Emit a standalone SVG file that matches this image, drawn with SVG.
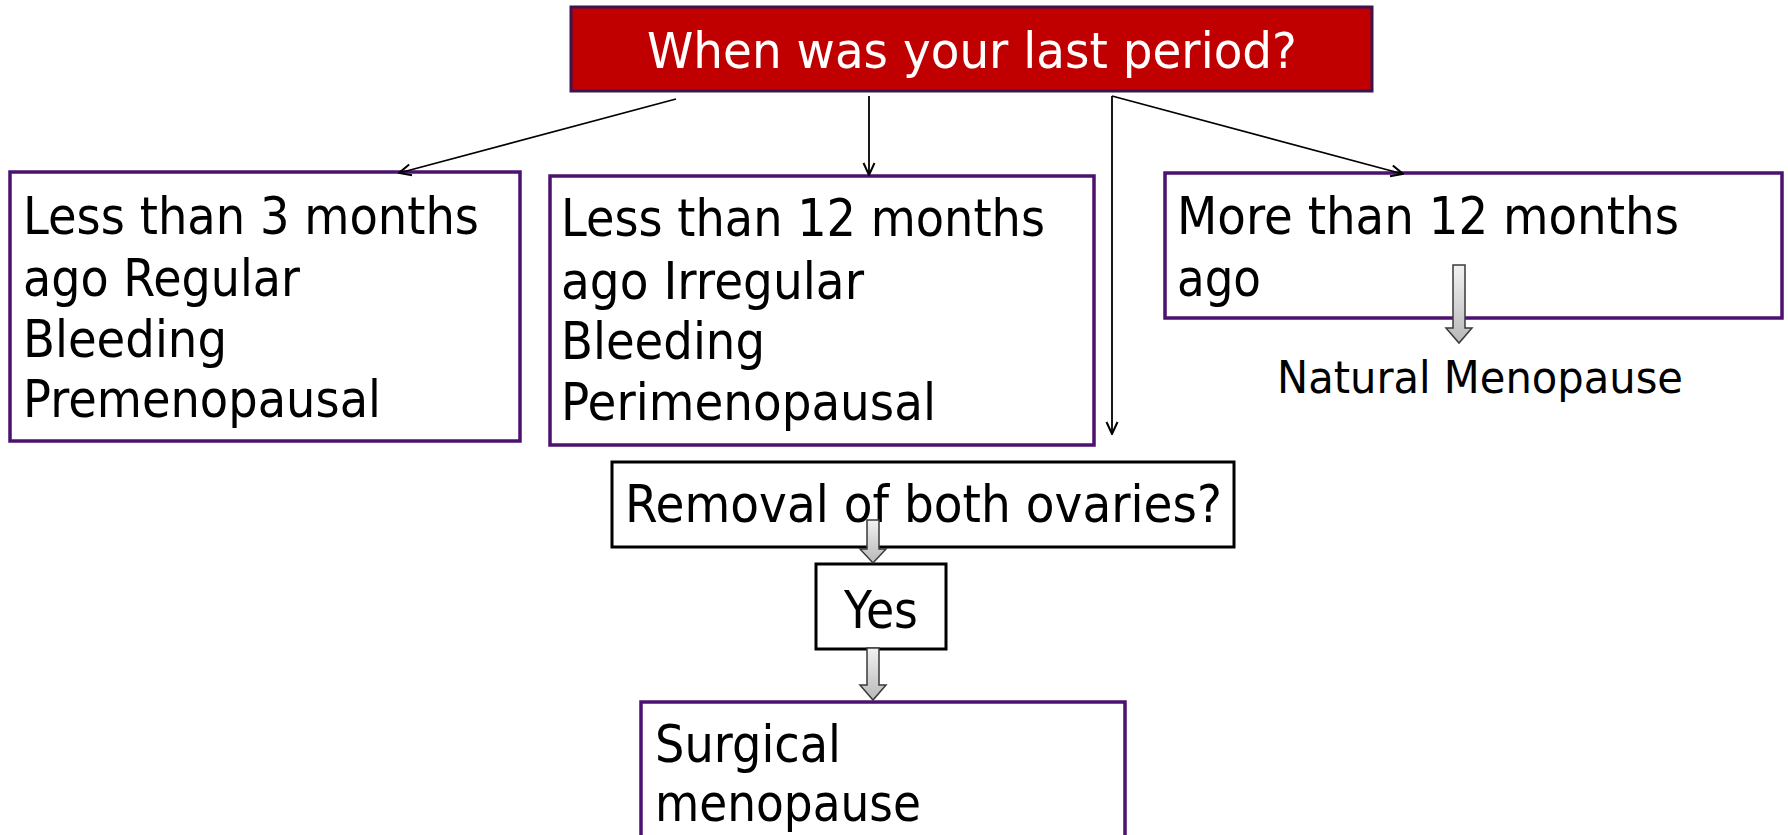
<svg xmlns="http://www.w3.org/2000/svg" width="1788" height="835" viewBox="0 0 1788 835">
<style>
.t{font-family:"DejaVu Sans","Liberation Sans",sans-serif;fill:#000;}
.box{fill:#fff;stroke:#4b1270;stroke-width:3.5;}
.bbox{fill:#fff;stroke:#000;stroke-width:3;}
.conn{stroke:#000;stroke-width:1.8;fill:none;marker-end:url(#ah);}
.blk{fill:url(#gg);stroke:#3a3a3a;stroke-width:1.5;}
</style>
<defs>
<marker id="ah" viewBox="0 0 14 14" refX="13" refY="7" markerWidth="14" markerHeight="14" markerUnits="userSpaceOnUse" orient="auto">
<path d="M1,1.5 L13,7 L1,12.5" fill="none" stroke="#000" stroke-width="2"/>
</marker>
<linearGradient id="gg" x1="0" y1="0" x2="0" y2="1">
<stop offset="0" stop-color="#f2f2f2"/>
<stop offset="1" stop-color="#b8b8b8"/>
</linearGradient>
</defs>
<g id="title">
<rect x="571" y="7" width="801" height="84" fill="#c00000" stroke="#3b1450" stroke-width="3"/>
<text class="t" x="972" y="68" font-size="50" style="fill:#fff" text-anchor="middle" textLength="650" lengthAdjust="spacingAndGlyphs">When was your last period?</text>
</g>
<g id="node-premenopausal">
<rect class="box" x="10" y="172" width="510" height="269"/>
<text class="t" font-size="52" x="23" y="234" textLength="456" lengthAdjust="spacingAndGlyphs">Less than 3 months</text>
<text class="t" font-size="52" x="23" y="296" textLength="277" lengthAdjust="spacingAndGlyphs">ago Regular</text>
<text class="t" font-size="52" x="23" y="357" textLength="204" lengthAdjust="spacingAndGlyphs">Bleeding</text>
<text class="t" font-size="52" x="23" y="417" textLength="358" lengthAdjust="spacingAndGlyphs">Premenopausal</text>
</g>
<g id="node-perimenopausal">
<rect class="box" x="550" y="176" width="544" height="269"/>
<text class="t" font-size="52" x="561" y="236" textLength="484" lengthAdjust="spacingAndGlyphs">Less than 12 months</text>
<text class="t" font-size="52" x="561" y="299" textLength="303" lengthAdjust="spacingAndGlyphs">ago Irregular</text>
<text class="t" font-size="52" x="561" y="359" textLength="204" lengthAdjust="spacingAndGlyphs">Bleeding</text>
<text class="t" font-size="52" x="561" y="420" textLength="375" lengthAdjust="spacingAndGlyphs">Perimenopausal</text>
</g>
<g id="node-more12">
<rect class="box" x="1165" y="173" width="617" height="145"/>
<text class="t" font-size="52" x="1177" y="234" textLength="502" lengthAdjust="spacingAndGlyphs">More than 12 months</text>
<text class="t" font-size="52" x="1177" y="296" textLength="84" lengthAdjust="spacingAndGlyphs">ago</text>
</g>
<g id="node-natural">
<text class="t" font-size="45" x="1480" y="393" text-anchor="middle" textLength="406" lengthAdjust="spacingAndGlyphs">Natural Menopause</text>
</g>
<g id="node-removal">
<rect class="bbox" x="612" y="462" width="622" height="85"/>
<text class="t" font-size="52" x="625" y="522" textLength="597" lengthAdjust="spacingAndGlyphs">Removal of both ovaries?</text>
</g>
<g id="node-yes">
<rect class="bbox" x="816" y="564" width="130" height="85"/>
<text class="t" font-size="52" x="881" y="628" text-anchor="middle" textLength="74" lengthAdjust="spacingAndGlyphs">Yes</text>
</g>
<g id="node-surgical">
<rect class="box" x="641" y="702" width="484" height="150"/>
<text class="t" font-size="52" x="655" y="762" textLength="186" lengthAdjust="spacingAndGlyphs">Surgical</text>
<text class="t" font-size="52" x="655" y="821" textLength="266" lengthAdjust="spacingAndGlyphs">menopause</text>
</g>
<g id="connectors">
<line class="conn" x1="676" y1="99" x2="399" y2="173"/>
<line class="conn" x1="869" y1="96" x2="869" y2="175"/>
<line class="conn" x1="1112" y1="96" x2="1112" y2="434"/>
<line class="conn" x1="1112" y1="96" x2="1403" y2="174"/>
<path class="blk" d="M1453,265 L1465,265 L1465,328 L1472,328 L1459,343 L1446,328 L1453,328 Z"/>
<path class="blk" d="M867,520 L879,520 L879,549 L886,549 L873,563 L860,549 L867,549 Z"/>
<path class="blk" d="M867,648 L879,648 L879,685 L886,685 L873,700 L860,685 L867,685 Z"/>
</g>
</svg>
